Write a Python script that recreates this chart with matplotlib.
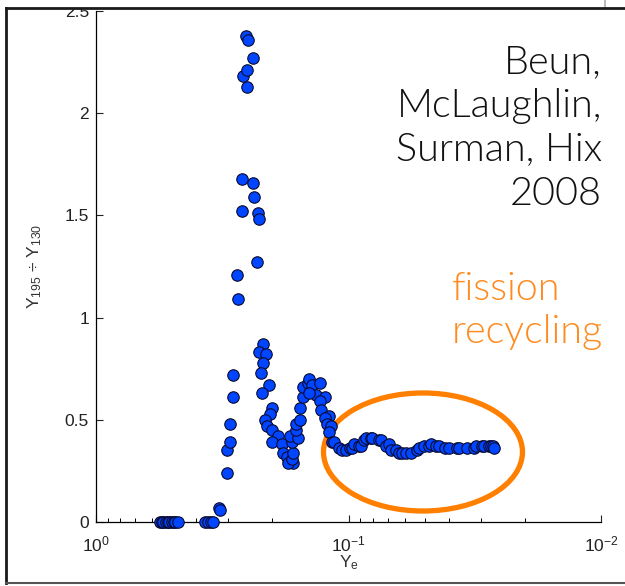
import matplotlib
matplotlib.use("Agg")
import matplotlib.pyplot as plt
from matplotlib.patches import Ellipse, Rectangle
from matplotlib.lines import Line2D
from matplotlib.ticker import LogLocator, FixedLocator, NullFormatter

plt.rcParams['font.family'] = ['Liberation Sans', 'DejaVu Sans']
plt.rcParams['mathtext.fontset'] = 'custom'
plt.rcParams['mathtext.rm'] = 'Liberation Sans'
plt.rcParams['mathtext.it'] = 'Liberation Sans:italic'
plt.rcParams['mathtext.default'] = 'regular'

# ---- data: Ye (electron fraction) and Y195/Y130 ratio ----
ye = [0.558, 0.550, 0.543, 0.529, 0.520, 0.515, 0.501, 0.490, 0.488, 0.474,
      0.371, 0.361, 0.351, 0.345,
      0.327, 0.324, 0.303, 0.303, 0.295, 0.295, 0.287, 0.287, 0.277, 0.275,
      0.265, 0.265, 0.239, 0.237, 0.229, 0.227, 0.231,
      0.255, 0.251, 0.239, 0.262, 0.253, 0.253,
      0.219, 0.227, 0.213, 0.219, 0.223, 0.207, 0.221,
      0.201, 0.205, 0.215, 0.211, 0.201, 0.191, 0.200, 0.184, 0.182, 0.176,
      0.166, 0.174, 0.168, 0.166, 0.168, 0.171,
      0.158, 0.161, 0.161, 0.155, 0.156, 0.152, 0.151, 0.145, 0.143, 0.140,
      0.130, 0.134, 0.144, 0.124, 0.130, 0.128, 0.119, 0.124, 0.122, 0.117,
      0.119, 0.116, 0.114, 0.109, 0.106, 0.102, 0.0990, 0.0965, 0.0947, 0.0905,
      0.0889, 0.0865, 0.0849, 0.0811, 0.0804, 0.0754, 0.0741, 0.0708, 0.0689,
      0.0676, 0.0646, 0.0630, 0.0612, 0.0590, 0.0564, 0.0534, 0.0524, 0.0501,
      0.0479, 0.0470, 0.0450, 0.0437, 0.0415, 0.0399, 0.0371, 0.0364, 0.0339,
      0.0318, 0.0312, 0.0295, 0.0290, 0.0277, 0.0272, 0.0268, 0.0265]
ratio = [0.00, 0.00, 0.00, 0.00, 0.00, 0.00, 0.00, 0.00, 0.00, 0.00,
         0.00, 0.00, 0.00, 0.00,
         0.07, 0.06, 0.24, 0.35, 0.39, 0.48, 0.61, 0.72, 1.21, 1.09,
         1.68, 1.52, 1.66, 1.59, 1.51, 1.48, 1.27,
         2.38, 2.36, 2.27, 2.18, 2.21, 2.13,
         0.87, 0.83, 0.82, 0.78, 0.73, 0.67, 0.63,
         0.56, 0.53, 0.50, 0.47, 0.45, 0.42, 0.39, 0.38, 0.34, 0.32,
         0.29, 0.29, 0.31, 0.34, 0.39, 0.42,
         0.41, 0.45, 0.48, 0.50, 0.56, 0.61, 0.66, 0.68, 0.70, 0.67,
         0.68, 0.62, 0.63, 0.61, 0.59, 0.55, 0.52, 0.51, 0.48, 0.47,
         0.44, 0.39, 0.39, 0.36, 0.35, 0.35, 0.36, 0.36, 0.38, 0.37,
         0.37, 0.40, 0.41, 0.41, 0.41, 0.40, 0.40, 0.37, 0.38,
         0.35, 0.35, 0.34, 0.34, 0.34, 0.34, 0.35, 0.36, 0.37,
         0.37, 0.38, 0.37, 0.37, 0.36, 0.36, 0.36, 0.36, 0.36,
         0.36, 0.37, 0.37, 0.37, 0.37, 0.37, 0.37, 0.36]

yticks = [0, 0.5, 1, 1.5, 2, 2.5]
ytick_labels = ['0', '0.5', '1', '1.5', '2', '2.5']
xticks = [1, 0.1, 0.01]
xtick_labels = [r'$10^{0}$', r'$10^{-1}$', r'$10^{-2}$']

credit_lines = ['Beun,', 'McLaughlin,', 'Surman, Hix', '2008']
note_lines = ['fission', 'recycling']

W, H = 625, 586
fig = plt.figure(figsize=(W / 100, H / 100), dpi=100)
fx = lambda px: px / W
fy = lambda py: 1 - py / H

ax = fig.add_axes([fx(96), fy(522), fx(601) - fx(96), fy(11) - fy(522)])
ax.set_xscale('log')
ax.set_xlim(1, 0.01)
ax.set_ylim(0, 2.5)

ell = Ellipse((0.6475, 0.137), 0.394, 0.231, transform=ax.transAxes,
              fill=False, edgecolor='#FF7F00', linewidth=3.8, zorder=1,
              clip_on=False)
ax.add_patch(ell)

ax.scatter(ye, ratio, s=68, facecolor='#0045FF', edgecolor='#0A0A30',
           linewidth=0.8, zorder=3, clip_on=False)

for s in ['top', 'right']:
    ax.spines[s].set_visible(False)
for s in ['left', 'bottom']:
    ax.spines[s].set_linewidth(0.9)

ax.set_yticks(yticks)
ax.set_yticklabels(ytick_labels)
ax.xaxis.set_major_locator(FixedLocator(xticks))
ax.set_xticklabels(xtick_labels)
ax.xaxis.set_minor_locator(LogLocator(base=10, subs=range(2, 10)))
ax.xaxis.set_minor_formatter(NullFormatter())
ax.tick_params(axis='both', which='major', direction='in', length=5,
               width=0.8, labelsize=12.5, colors='#222222')
ax.tick_params(axis='x', which='minor', direction='in', length=3, width=0.7)
ax.tick_params(axis='y', which='major', pad=5)
ax.tick_params(axis='x', which='major', pad=9)

ax.set_ylabel(r'Y$_{195}$ ÷ Y$_{130}$', fontsize=12.5, color='#333333')
ax.yaxis.set_label_coords(-0.103, 0.5)
ax.set_xlabel(r'Y$_{e}$', fontsize=12.5, color='#333333')
ax.xaxis.set_label_coords(0.5, -0.062)

# credit text (right-aligned)
credit_base = [73, 117, 160, 205]
for line, b in zip(credit_lines, credit_base):
    fig.text(fx(602), fy(b), line, ha='right', va='baseline',
             fontsize=28.5, family=['Lato', 'DejaVu Sans'], weight=300,
             color='#111111')

note_base = [300, 343]
for line, b in zip(note_lines, note_base):
    fig.text(fx(452), fy(b), line, ha='left', va='baseline',
             fontsize=28.5, family=['Lato', 'DejaVu Sans'], weight=300,
             color='#FF8A1E')

# outer slide frame
fig.add_artist(Rectangle((0, fy(8)), 1, 1 - fy(8), transform=fig.transFigure,
                         facecolor='white', edgecolor='none', zorder=10))
fig.add_artist(Line2D([fx(605), fx(605)], [fy(8), 1], transform=fig.transFigure,
                      color='#BBBBBB', linewidth=1.5, zorder=11))
fig.add_artist(Line2D([fx(6), 1], [fy(8), fy(8)], transform=fig.transFigure,
                      color='#1A1A1A', linewidth=2.0, zorder=12))
fig.add_artist(Line2D([fx(6), fx(6)], [fy(8), fy(583)], transform=fig.transFigure,
                      color='#1A1A1A', linewidth=2.0, zorder=12))
fig.add_artist(Line2D([fx(6), 1], [fy(583), fy(583)], transform=fig.transFigure,
                      color='#555555', linewidth=1.5, zorder=12))

fig.savefig('out.png', dpi=100)
